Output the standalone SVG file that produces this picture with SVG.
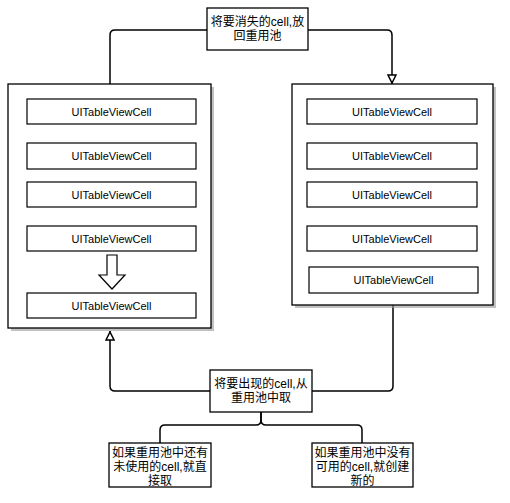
<svg xmlns="http://www.w3.org/2000/svg" width="510" height="503" viewBox="0 0 510 503">
<style>
.box{fill:#fff;stroke:#000;stroke-width:1.3}
.sh{fill:#9a9a9a;opacity:0.6}
.cell{fill:#fff;stroke:#000;stroke-width:1.2}
.t{font-family:"Liberation Sans",Arial,sans-serif;font-size:11px;fill:#000;text-anchor:middle}
.c{font-family:"Liberation Sans","Noto Sans CJK SC",sans-serif;font-size:12px;fill:#000;text-anchor:middle}
.ln{fill:none;stroke:#000;stroke-width:1.5}
</style>
<defs>
<marker id="tri" viewBox="0 0 10 10" refX="10" refY="5" markerWidth="10" markerHeight="10" markerUnits="userSpaceOnUse" orient="auto">
<path d="M1,1 L9,5 L1,9 Z" fill="#fff" stroke="#000" stroke-width="1.5"/>
</marker>
</defs>
<rect width="510" height="503" fill="#fff"/>
<g id="connectors">
<path class="ln" d="M207,30 H115 Q110,30 110,35 V84"/>
<path class="ln" d="M308,30 H387 Q392,30 392,35 V84" marker-end="url(#tri)"/>
<path class="ln" d="M210,391 H115 Q110,391 110,386 V331" marker-end="url(#tri)"/>
<path class="ln" d="M312,391 H388 Q393,391 393,386 V305"/>
<path class="ln" d="M261,412 V420 Q261,425 256,425 H165 Q160,425 160,430 V443"/>
<path class="ln" d="M261,412 V420 Q261,425 266,425 H357 Q362,425 362,430 V443"/>
</g>
<g id="top-note">
<rect class="box" x="207" y="8" width="101" height="42"/>
<text class="c" x="257.5" y="26">将要消失的cell,放</text>
<text class="c" x="257.5" y="40">回重用池</text>
</g>
<g id="left-table">
<rect class="sh" x="11" y="87" width="203" height="244"/>
<rect class="box" x="8" y="84" width="203" height="244"/>
<rect class="cell" x="27" y="99" width="169" height="25"/>
<text class="t" x="111.5" y="115.5">UITableViewCell</text>
<rect class="cell" x="27" y="143" width="169" height="26"/>
<text class="t" x="111.5" y="160">UITableViewCell</text>
<rect class="cell" x="27" y="182" width="169" height="25"/>
<text class="t" x="111.5" y="198.5">UITableViewCell</text>
<rect class="cell" x="27" y="226" width="169" height="25"/>
<text class="t" x="111.5" y="242.5">UITableViewCell</text>
<path d="M107,255 H117 V275 H125 L112,289 L99,275 H107 Z" fill="#fff" stroke="#000" stroke-width="1.2"/>
<rect class="cell" x="27" y="293" width="169" height="25"/>
<text class="t" x="111.5" y="309.5">UITableViewCell</text>
</g>
<g id="right-table">
<rect class="sh" x="295" y="87" width="201" height="221"/>
<rect class="box" x="292" y="84" width="201" height="221"/>
<rect class="cell" x="307" y="99" width="170" height="25"/>
<text class="t" x="392" y="115.5">UITableViewCell</text>
<rect class="cell" x="307" y="143" width="170" height="26"/>
<text class="t" x="392" y="160">UITableViewCell</text>
<rect class="cell" x="307" y="182" width="170" height="25"/>
<text class="t" x="392" y="198.5">UITableViewCell</text>
<rect class="cell" x="307" y="226" width="170" height="25"/>
<text class="t" x="392" y="242.5">UITableViewCell</text>
<rect class="cell" x="309" y="267" width="169" height="26"/>
<text class="t" x="393.5" y="284">UITableViewCell</text>
</g>
<g id="bottom-note">
<rect class="box" x="210" y="370" width="102" height="42"/>
<text class="c" x="261" y="388">将要出现的cell,从</text>
<text class="c" x="261" y="402">重用池中取</text>
</g>
<g id="reuse-note">
<rect class="box" x="109" y="443" width="102" height="44"/>
<text class="c" x="160" y="457">如果重用池中还有</text>
<text class="c" x="160" y="471">未使用的cell,就直</text>
<text class="c" x="160" y="485">接取</text>
</g>
<g id="create-note">
<rect class="box" x="312" y="443" width="101" height="44"/>
<text class="c" x="362.5" y="457">如果重用池中没有</text>
<text class="c" x="362.5" y="471">可用的cell,就创建</text>
<text class="c" x="362.5" y="485">新的</text>
</g>
</svg>
